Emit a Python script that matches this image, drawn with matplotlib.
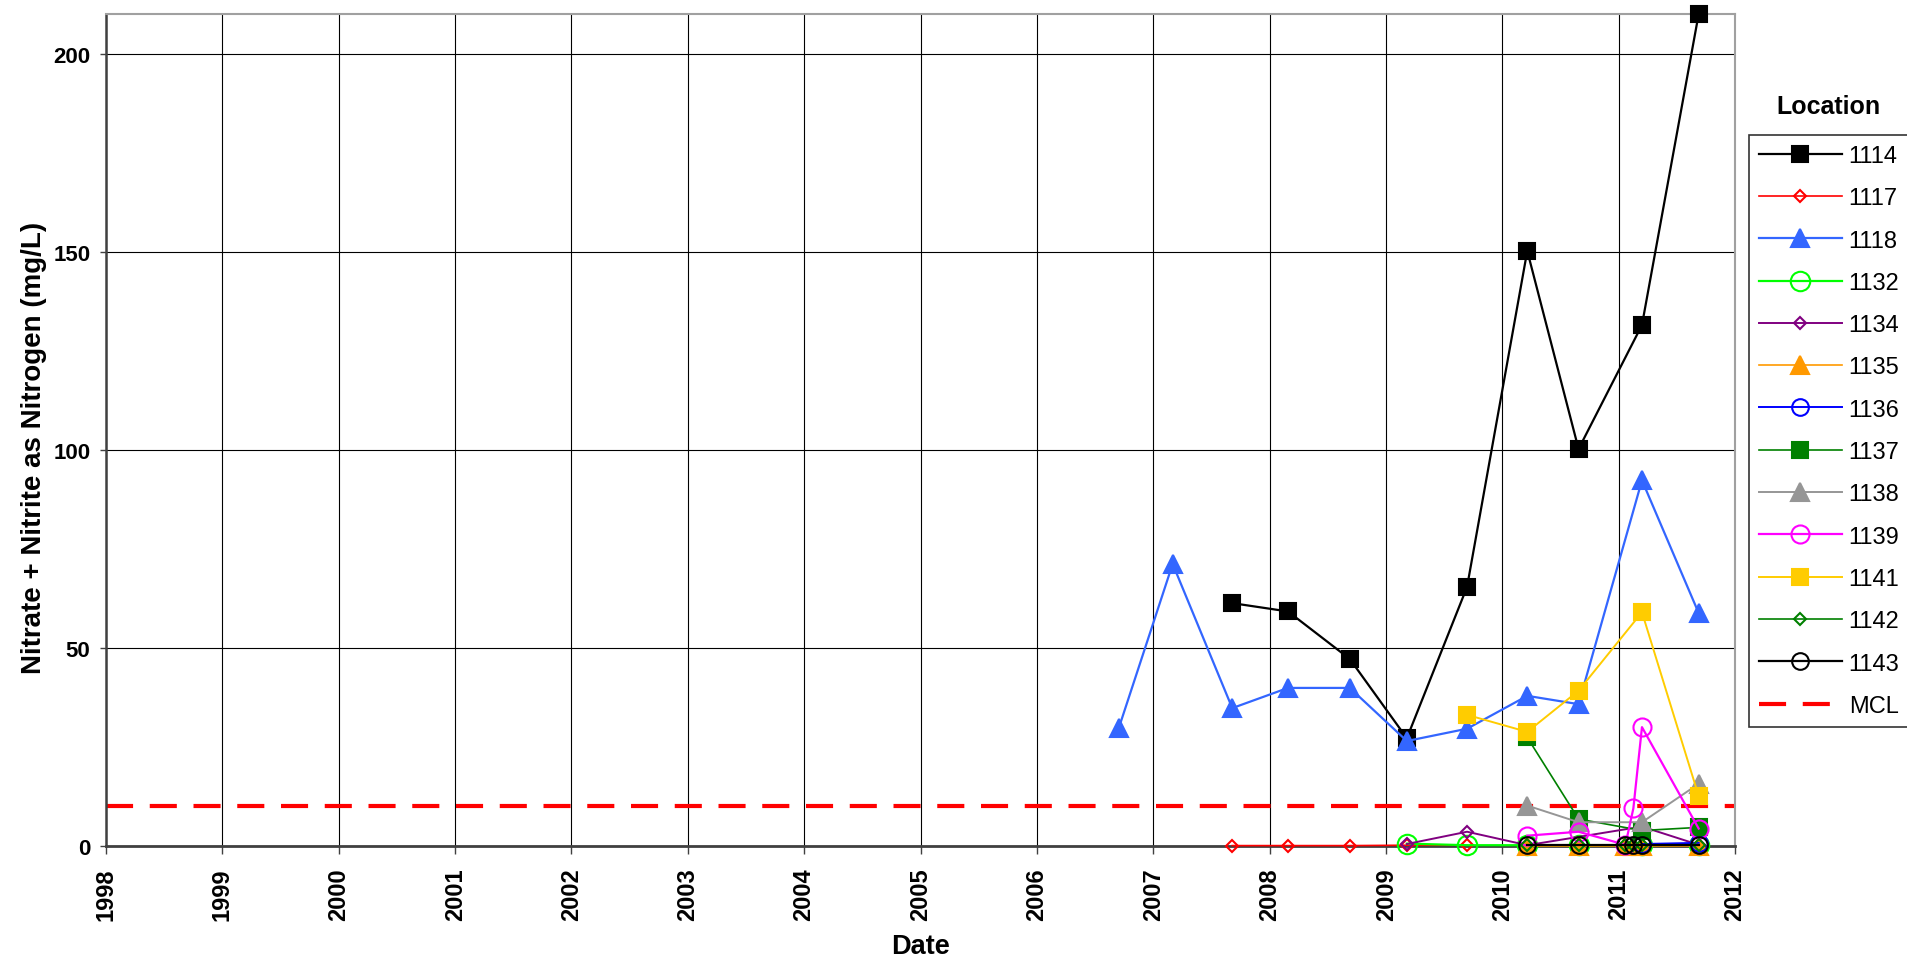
import pandas as pd
import matplotlib
matplotlib.use("Agg")
from matplotlib import pyplot as plt
from matplotlib import dates as mdates
from matplotlib.lines import Line2D

# sampling dates
A = '2006-09-15'
B = '2007-03-03'
C = '2007-09-06'
D = '2008-02-28'
E = '2008-09-09'
F = '2009-03-07'
G = '2009-09-12'
H = '2010-03-20'
I = '2010-08-28'
J1 = '2011-01-22'
J2 = '2011-02-16'
K = '2011-03-15'
L = '2011-09-09'

locations = ['1114', '1117', '1118', '1132', '1134', '1135', '1136',
             '1137', '1138', '1139', '1141', '1142', '1143']

dates_1114 = [C, D, E, F, G, H, I, K, L]
vals_1114 = [61.3, 59.2, 47.2, 27.2, 65.4, 150.2, 100.2, 131.5, 210.0]

dates_1117 = [C, D, E, F, G]
vals_1117 = [0.1, 0.1, 0.1, 0.2, 0.2]

dates_1118 = [A, B, C, D, E, F, G, H, I, K, L]
vals_1118 = [29.8, 71.2, 34.8, 39.9, 39.9, 26.5, 29.6, 37.9, 35.8, 92.3, 58.8]

dates_1132 = [F, G, H, I, K, L]
vals_1132 = [0.6, 0.2, 0.2, 0.2, 0.2, 0.3]

dates_1134 = [F, G, H, K, L]
vals_1134 = [0.5, 3.6, 0.2, 4.9, 0.3]

dates_1135 = [H, I, J1, J2, K, L]
vals_1135 = [0.0, 0.0, 0.0, 0.0, 0.0, 0.0]

dates_1136 = [K, L]
vals_1136 = [0.5, 0.8]

dates_1137 = [H, I, K, L]
vals_1137 = [27.4, 6.8, 3.9, 4.7]

dates_1138 = [H, I, K, L]
vals_1138 = [10.2, 6.0, 6.0, 15.7]

dates_1139 = [H, I, J1, J2, K, L]
vals_1139 = [2.6, 3.6, 0.3, 9.5, 30.0, 4.4]

dates_1141 = [G, H, I, K, L]
vals_1141 = [33.1, 28.8, 39.2, 59.0, 12.6]

dates_1142 = [H, I, J1, J2, K, L]
vals_1142 = [0.2, 0.2, 0.2, 0.2, 0.2, 0.2]

dates_1143 = [H, I, J1, J2, K, L]
vals_1143 = [0.3, 0.3, 0.3, 0.3, 0.3, 0.3]

mcl = 10
y_ticks = [0, 50, 100, 150, 200]

# style per location: color, marker, size, filled, line width
styles = {
    '1114': ('black', 's', 11, True, 1.6),
    '1117': ('#FF0000', 'D', 6.5, False, 1.2),
    '1118': ('#3366FF', '^', 12.5, True, 1.6),
    '1132': ('#00FF00', 'o', 14, False, 1.6),
    '1134': ('#800080', 'D', 6.5, False, 1.4),
    '1135': ('#FF9900', '^', 12.5, True, 1.2),
    '1136': ('#0000FF', 'o', 12, False, 1.4),
    '1137': ('#008000', 's', 11, True, 1.2),
    '1138': ('#969696', '^', 12.5, True, 1.4),
    '1139': ('#FF00FF', 'o', 13, False, 1.6),
    '1141': ('#FFCC00', 's', 11, True, 1.4),
    '1142': ('#008000', 'D', 6.5, False, 1.2),
    '1143': ('black', 'o', 12, False, 1.6),
}

series = {
    '1114': (dates_1114, vals_1114), '1117': (dates_1117, vals_1117),
    '1118': (dates_1118, vals_1118), '1132': (dates_1132, vals_1132),
    '1134': (dates_1134, vals_1134), '1135': (dates_1135, vals_1135),
    '1136': (dates_1136, vals_1136), '1137': (dates_1137, vals_1137),
    '1138': (dates_1138, vals_1138), '1139': (dates_1139, vals_1139),
    '1141': (dates_1141, vals_1141), '1142': (dates_1142, vals_1142),
    '1143': (dates_1143, vals_1143),
}

plt.rcParams['font.family'] = ['Liberation Sans', 'DejaVu Sans']

fig = plt.figure(figsize=(19.08, 9.62), dpi=100)
ax = fig.add_axes([106/1908, 1-847/962, (1735-106)/1908, (847-15)/962])

# MCL line
ax.axhline(mcl, color='#FF0000', lw=3, ls=(0, (6.5, 4)), zorder=2)

handles = []
for i, loc in enumerate(locations):
    col, mk, ms, filled, lw = styles[loc]
    d, v = series[loc]
    x = pd.to_datetime(d)
    ax.plot(x, v, color=col, lw=lw, marker=mk, markersize=ms,
            markerfacecolor=col if filled else 'none', markeredgecolor=col,
            markeredgewidth=1.5, zorder=3+i*0.1, clip_on=False)
    handles.append(Line2D([], [], color=col, lw=lw, marker=mk, markersize=ms,
                          markerfacecolor=col if filled else 'none',
                          markeredgecolor=col, markeredgewidth=1.5, label=loc))
handles.append(Line2D([], [], color='#FF0000', lw=3, ls=(0, (6.5, 4)), label='MCL'))

ax.set_xlim(pd.Timestamp('1998-01-01'), pd.Timestamp('2012-01-01'))
ax.set_ylim(0, 210)
ax.xaxis.set_major_locator(mdates.YearLocator())
ax.xaxis.set_major_formatter(mdates.DateFormatter('%Y'))
ax.set_yticks(y_ticks)
ax.grid(True, color='black', lw=0.8, zorder=0)
ax.set_axisbelow(True)

for s in ['top', 'right']:
    ax.spines[s].set_color('#A0A0A0')
    ax.spines[s].set_linewidth(1.5)
ax.spines['left'].set_color('#404040')
ax.spines['left'].set_linewidth(1.8)
ax.spines['bottom'].set_color('#404040')
ax.spines['bottom'].set_linewidth(2)

ax.tick_params(axis='x', direction='out', length=5.8, width=1, labelsize=17,
               color='#404040', pad=9.5)
ax.tick_params(axis='y', direction='out', length=4.3, width=1, labelsize=16,
               color='#404040', pad=7)
for lab in ax.get_xticklabels():
    lab.set_rotation(90)
    lab.set_fontweight('bold')
for lab in ax.get_yticklabels():
    lab.set_fontweight('bold')

ax.set_xlabel('Date', fontsize=19.5, fontweight='bold')
ax.xaxis.set_label_coords(0.5, -0.104)
ax.set_ylabel('Nitrate + Nitrite as Nitrogen (mg/L)', fontsize=20, fontweight='bold')
ax.yaxis.set_label_coords(-0.036, 0.48)

leg = fig.legend(handles=handles, loc='upper left', bbox_to_anchor=(1749/1908, 1-136/962),
                 frameon=True, fancybox=False, fontsize=17, handlelength=3.5,
                 handletextpad=0.3, labelspacing=0.86, borderpad=0.42, borderaxespad=0)
leg.get_frame().set_edgecolor('black')
leg.get_frame().set_linewidth(1.2)
fig.text(1828/1908, 1-107/962, 'Location', ha='center', va='center', fontsize=18, fontweight='bold')

plt.savefig('out.png', dpi=100)
